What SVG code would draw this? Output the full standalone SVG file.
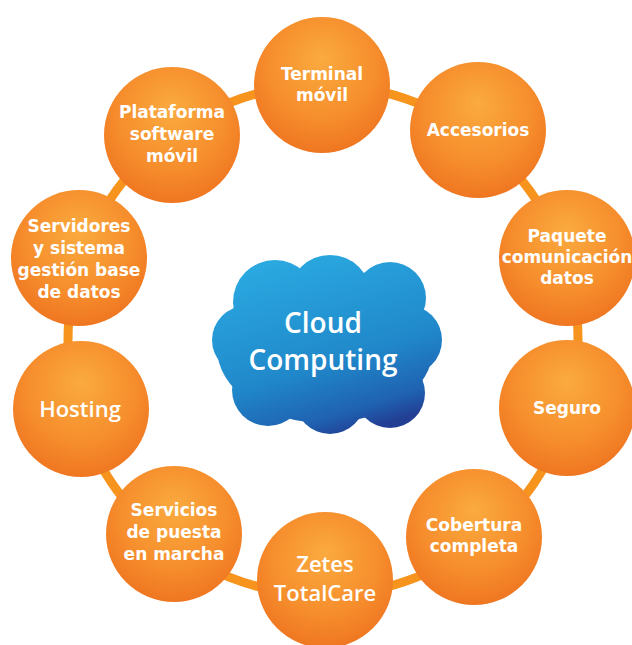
<svg xmlns="http://www.w3.org/2000/svg" width="632" height="645" viewBox="0 0 632 645">
<defs>
<radialGradient id="og" cx="0.5" cy="0.38" r="0.62" fx="0.5" fy="0.3">
<stop offset="0" stop-color="#FAAB3F"/>
<stop offset="0.65" stop-color="#F68D2C"/>
<stop offset="1" stop-color="#EF7621"/>
</radialGradient>
<linearGradient id="cg" gradientUnits="userSpaceOnUse" x1="290" y1="258" x2="345" y2="436">
<stop offset="0" stop-color="#2AA8E0"/>
<stop offset="0.6" stop-color="#2088CA"/>
<stop offset="0.88" stop-color="#1F62B1"/>
<stop offset="1" stop-color="#223F94"/>
</linearGradient>
<style>
.n{fill:url(#og)}
.t{font-family:"DejaVu Sans",Verdana,sans-serif;font-weight:bold;font-size:17px;fill:#fff;text-anchor:middle}
.s{font-family:"Open Sans","Noto Sans",sans-serif;font-weight:600;font-size:22px;fill:#fff;text-anchor:middle}
.c{font-family:"Open Sans","Noto Sans",sans-serif;font-weight:600;font-size:28px;fill:#fff;text-anchor:middle}
</style>
</defs>
<rect width="632" height="645" fill="#fff"/>
<g id="connectors">
<circle cx="323" cy="340" r="255" fill="none" stroke="#F7941D" stroke-width="9"/>
</g>
<g id="cloud">
<g fill="url(#cg)">
<ellipse cx="325" cy="348" rx="108" ry="75"/>
<circle cx="275" cy="302" r="42"/>
<circle cx="330" cy="296" r="41"/>
<circle cx="390" cy="298" r="36"/>
<circle cx="407" cy="340" r="35"/>
<circle cx="390" cy="393" r="35"/>
<circle cx="330" cy="399" r="35"/>
<circle cx="268" cy="390" r="36"/>
<circle cx="246" cy="340" r="34"/>
</g>
<text class="c" x="323" y="333">Cloud</text>
<text class="c" x="323" y="370">Computing</text>
</g>
<g id="terminal"><circle class="n" cx="322" cy="85" r="68"/><text class="t" x="322" y="80">Terminal</text><text class="t" x="322" y="101">móvil</text></g>
<g id="accesorios"><circle class="n" cx="478" cy="130" r="68"/><text class="t" x="478" y="136">Accesorios</text></g>
<g id="paquete"><circle class="n" cx="567" cy="258" r="68"/><text class="t" x="567" y="242">Paquete</text><text class="t" x="567" y="263">comunicación</text><text class="t" x="567" y="284">datos</text></g>
<g id="seguro"><circle class="n" cx="567" cy="408" r="68"/><text class="t" x="567" y="414">Seguro</text></g>
<g id="cobertura"><circle class="n" cx="474" cy="537" r="68"/><text class="t" x="474" y="531">Cobertura</text><text class="t" x="474" y="552">completa</text></g>
<g id="zetes"><circle class="n" cx="325" cy="580" r="68"/><text class="s" x="325" y="572">Zetes</text><text class="s" x="325" y="601">TotalCare</text></g>
<g id="servicios"><circle class="n" cx="174" cy="534" r="68"/><text class="t" x="174" y="516">Servicios</text><text class="t" x="174" y="538">de puesta</text><text class="t" x="174" y="560">en marcha</text></g>
<g id="hosting"><circle class="n" cx="81" cy="409" r="68"/><text class="s" x="80" y="417">Hosting</text></g>
<g id="servidores"><circle class="n" cx="79" cy="258" r="68"/><text class="t" x="79" y="232">Servidores</text><text class="t" x="79" y="254">y sistema</text><text class="t" x="79" y="276">gestión base</text><text class="t" x="79" y="298">de datos</text></g>
<g id="plataforma"><circle class="n" cx="172" cy="135" r="68"/><text class="t" x="172" y="118">Plataforma</text><text class="t" x="172" y="140">software</text><text class="t" x="172" y="162">móvil</text></g>
</svg>
